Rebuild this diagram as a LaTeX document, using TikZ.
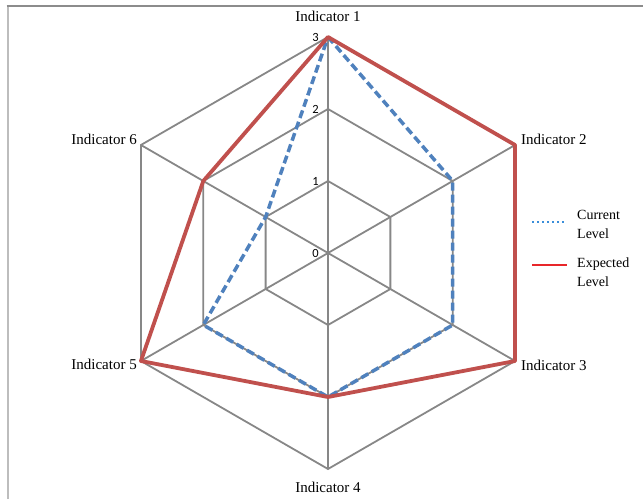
\documentclass[tikz,border=0pt]{standalone}
\usepackage{fontspec}
\setmainfont{Liberation Serif}
\newfontfamily\axisfont{Carlito}
\usetikzlibrary{calc}
\definecolor{gridgray}{HTML}{878787}
\definecolor{curblue}{HTML}{4F81BD}
\definecolor{expred}{HTML}{C0504D}
\definecolor{legblue}{HTML}{3A8EDA}
\definecolor{legred}{HTML}{E8262A}
\definecolor{frametop}{HTML}{8C8C8C}
\definecolor{frameleft}{HTML}{BDBDBD}
\begin{document}
\begin{tikzpicture}[x=1pt,y=1pt,
  gridline/.style={draw=gridgray,line width=1.8pt},
  currentline/.style={draw=curblue,line width=3.5pt,dash pattern=on 8pt off 4pt,line join=round},
  expectedline/.style={draw=expred,line width=3.8pt,line join=round},
  axislabel/.style={font=\fontsize{15}{17}\selectfont,inner sep=0pt},
  ticklabel/.style={font=\axisfont\fontsize{12.5}{14}\selectfont,inner sep=0pt,anchor=east},
  legendtext/.style={font=\fontsize{14}{19}\selectfont,align=left,inner sep=0pt,anchor=west}]
\useasboundingbox (0,0) rectangle (643,499);

% chart frame (only the top and left edges fall inside the page)
\draw[frameleft,line width=2pt] (7.5,0) -- (7.5,493);
\draw[frametop,line width=1.5pt] (6.5,493) -- (643,493);

% centre and axis points for levels 1..3
\coordinate (O) at (328,246);
\foreach \i/\a in {1/90,2/30,3/-30,4/-90,5/-150,6/150}{
  \foreach \k in {1,2,3}{
    \coordinate (v\i-\k) at ($(O)+(\a:{72*\k})$);
  }
}

% web grid
\foreach \k in {1,2,3}{
  \draw[gridline] (v1-\k) -- (v2-\k) -- (v3-\k) -- (v4-\k) -- (v5-\k) -- (v6-\k) -- cycle;
}
\foreach \i in {1,...,6}{
  \draw[gridline] (O) -- (v\i-3);
}

% scale labels
\node[ticklabel] (t0) at ($(O)+(-9,0)$) {0};
\foreach \k in {1,2,3}{
  \node[ticklabel] (t\k) at ($(v1-\k)+(-9,0)$) {\k};
}

% data series
\draw[currentline] (v1-3) -- (v2-2) -- (v3-2) -- (v4-2) -- (v5-2) -- (v6-1) -- cycle;
\draw[expectedline] (v1-3) -- (v2-3) -- (v3-3) -- (v4-2) -- (v5-3) -- (v6-2) -- cycle;

% axis names
\node[axislabel,anchor=base] (L1) at (328,477) {Indicator 1};
\node[axislabel,anchor=base west] (L2) at (521,354) {Indicator 2};
\node[axislabel,anchor=base west] (L3) at (521,129) {Indicator 3};
\node[axislabel,anchor=base] (L4) at (328,7) {Indicator 4};
\node[axislabel,anchor=base east] (L5) at (137,130) {Indicator 5};
\node[axislabel,anchor=base east] (L6) at (137,354) {Indicator 6};

% legend
\coordinate (c1) at (532,277);
\coordinate (c2) at (566,277);
\draw[legblue,line width=1.5pt,dash pattern=on 1.5pt off 3.5pt] (c1) -- (c2);
\node[legendtext] (lc) at (577,275) {Current\\Level};
\coordinate (e1) at (532,234);
\coordinate (e2) at (567,234);
\draw[legred,line width=2pt] (e1) -- (e2);
\node[legendtext] (le) at (577,227) {Expected\\Level};
\end{tikzpicture}
\end{document}
